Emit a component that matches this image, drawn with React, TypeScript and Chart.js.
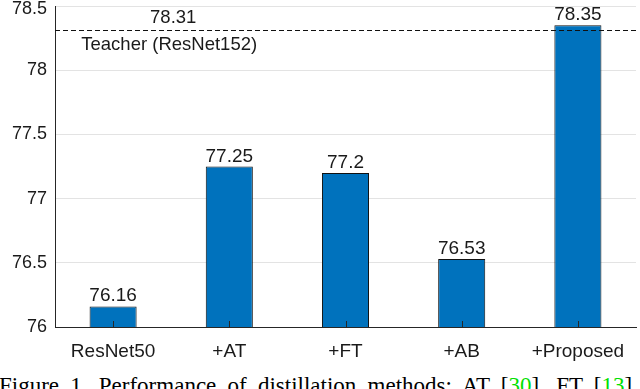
import React, { useEffect, useRef } from "react";
import { Chart, registerables } from "chart.js";

Chart.register(...registerables);

const categories = ["ResNet50", "+AT", "+FT", "+AB", "+Proposed"];
const accuracy = [76.16, 77.25, 77.2, 76.53, 78.35];
const valueLabels = ["76.16", "77.25", "77.2", "76.53", "78.35"];
const teacherValue = 78.31;
const teacherValueLabel = "78.31";
const teacherLabel = "Teacher (ResNet152)";
const yMin = 76;
const yMax = 78.5;
const yStep = 0.5;

const FONT = "'Liberation Sans', Arial, Helvetica, sans-serif";
const TEXT = "#1a1a1a";

const fmt = (v: number) => String(Number(Number(v).toFixed(2)));

const annotPlugin = {
  id: "annot",
  afterDraw(chart: any) {
    const ctx = chart.ctx;
    const xs = chart.scales.x;
    const ys = chart.scales.y;
    const area = chart.chartArea;
    ctx.save();
    ctx.strokeStyle = "#262626";
    ctx.lineWidth = 1;
    categories.forEach((_, i) => {
      const px = Math.round(xs.getPixelForValue(i)) + 0.5;
      ctx.beginPath();
      ctx.moveTo(px, area.bottom);
      ctx.lineTo(px, area.bottom - 6);
      ctx.stroke();
    });
    // top y tick label, nudged inside the canvas
    ctx.fillStyle = TEXT;
    ctx.font = `18px ${FONT}`;
    ctx.textAlign = "right";
    ctx.textBaseline = "middle";
    ctx.fillText(fmt(yMax), area.left - 8, Math.max(ys.getPixelForValue(yMax), 9.5));

    ctx.font = `19px ${FONT}`;
    ctx.textAlign = "center";
    ctx.textBaseline = "alphabetic";
    const meta = chart.getDatasetMeta(0);
    meta.data.forEach((bar: any, i: number) => {
      ctx.fillText(valueLabels[i], bar.x, bar.y - 5);
    });
    const ty = Math.round(ys.getPixelForValue(teacherValue)) + 0.5;
    ctx.strokeStyle = "#111";
    ctx.setLineDash([5, 3]);
    ctx.beginPath();
    ctx.moveTo(area.left, ty);
    ctx.lineTo(area.right, ty);
    ctx.stroke();
    ctx.setLineDash([]);
    const tx = (xs.getPixelForValue(0) + xs.getPixelForValue(1)) / 2;
    ctx.font = `18.5px ${FONT}`;
    ctx.fillText(teacherValueLabel, tx + 2, ty - 8);
    ctx.fillText(teacherLabel, tx - 2, ty + 19);
    ctx.restore();
  },
};

export default function App() {
  const ref = useRef<HTMLCanvasElement | null>(null);
  useEffect(() => {
    if (!ref.current) return;
    const chart = new Chart(ref.current, {
      type: "bar",
      data: {
        labels: categories,
        datasets: [
          {
            data: accuracy,
            backgroundColor: "#0072BD",
            borderColor: "#111111",
            borderWidth: 1,
            borderSkipped: "start",
            barPercentage: 0.405,
            categoryPercentage: 1,
          },
        ],
      },
      options: {
        responsive: false,
        animation: false,
        layout: { autoPadding: false, padding: { top: 6, right: 4, left: 0, bottom: 0 } },
        plugins: { legend: { display: false }, tooltip: { enabled: false } },
        scales: {
          x: {
            grid: { display: true, color: "rgba(0,0,0,0)", drawTicks: false },
            border: { display: true, color: "#262626", width: 1 },
            ticks: { color: TEXT, font: { family: FONT, size: 19 }, padding: 13, maxRotation: 0 },
            afterFit: (s: any) => {
              s.height = 43;
              s.paddingLeft = 0;
              s.paddingRight = 0;
            },
          },
          y: {
            min: yMin,
            max: yMax,
            ticks: {
              stepSize: yStep,
              color: TEXT,
              font: { family: FONT, size: 18 },
              padding: 8,
              callback: (v: any) => (Number(v) >= yMax ? "" : fmt(v)),
            },
            grid: {
              color: (c: any) => (c.tick && c.tick.value === yMin ? "rgba(0,0,0,0)" : "#e3e3e3"),
              drawTicks: false,
            },
            border: { display: true, color: "#262626", width: 1 },
            afterFit: (s: any) => {
              s.width = 55;
              s.paddingTop = 0;
              s.paddingBottom = 0;
            },
          },
        },
      },
      plugins: [annotPlugin],
    });
    return () => chart.destroy();
  }, []);

  return (
    <div
      style={{
        position: "absolute",
        left: 0,
        top: 0,
        width: 640,
        height: 389,
        overflow: "hidden",
        background: "#fff",
      }}
    >
      <canvas ref={ref} width={640} height={370} style={{ display: "block", width: 640, height: 370 }} />
      <div
        style={{
          position: "absolute",
          left: -1,
          top: 374,
          whiteSpace: "nowrap",
          fontFamily: "'Liberation Serif', 'Times New Roman', serif",
          fontSize: 23,
          lineHeight: "23px",
          wordSpacing: 5.5,
          color: "#000",
        }}
      >
        Figure 1. Performance of distillation methods: AT [<span style={{ color: "#00e000" }}>30</span>], FT [<span style={{ color: "#00e000" }}>13</span>]
      </div>
    </div>
  );
}
